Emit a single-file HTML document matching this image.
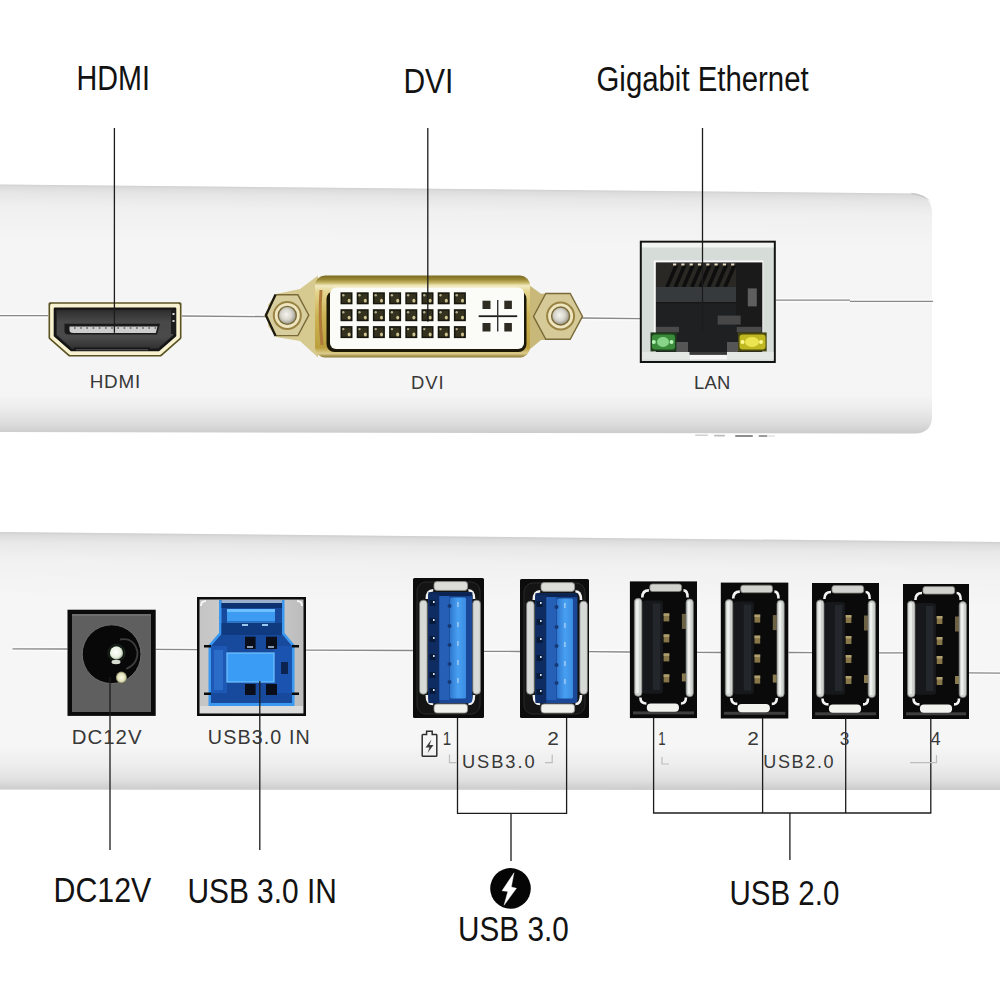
<!DOCTYPE html>
<html><head><meta charset="utf-8">
<style>
html,body{margin:0;padding:0;background:#fff;width:1000px;height:1000px;overflow:hidden}
svg{display:block}
text{font-family:"Liberation Sans",sans-serif}
</style></head>
<body>
<svg width="1000" height="1000" viewBox="0 0 1000 1000">
<defs>
<linearGradient id="topShade" gradientUnits="userSpaceOnUse" x1="0" y1="184.5" x2="0" y2="240" gradientTransform="skewY(0.5617)">
<stop offset="0" stop-color="#d0d0d0"/>
<stop offset="0.04" stop-color="#dcdcdc"/>
<stop offset="0.15" stop-color="#e6e6e6"/>
<stop offset="0.4" stop-color="#f0f0f0"/>
<stop offset="1" stop-color="#f5f5f5"/>
</linearGradient>
<linearGradient id="topBot" gradientUnits="userSpaceOnUse" x1="0" y1="395" x2="0" y2="434">
<stop offset="0" stop-color="#f5f5f5"/>
<stop offset="0.35" stop-color="#ececec"/>
<stop offset="0.7" stop-color="#dedede"/>
<stop offset="1" stop-color="#cbcbcb"/>
</linearGradient>
<linearGradient id="botShade" gradientUnits="userSpaceOnUse" x1="0" y1="532" x2="0" y2="600" gradientTransform="skewY(0.573)">
<stop offset="0" stop-color="#cfcfcf"/>
<stop offset="0.04" stop-color="#dcdcdc"/>
<stop offset="0.15" stop-color="#e8e8e8"/>
<stop offset="0.4" stop-color="#f1f1f1"/>
<stop offset="1" stop-color="#f6f6f6"/>
</linearGradient>
<linearGradient id="botBot" gradientUnits="userSpaceOnUse" x1="0" y1="745" x2="0" y2="790">
<stop offset="0" stop-color="#f6f6f6"/>
<stop offset="0.45" stop-color="#ededed"/>
<stop offset="0.78" stop-color="#e0e0e0"/>
<stop offset="1" stop-color="#cbcbcb"/>
</linearGradient>
<clipPath id="clipTop"><path d="M0 184.5 L912 193.5 Q932 194 932 214 L932 416 Q932 433.6 914 433.6 L0 432 Z"/></clipPath>
<clipPath id="clipBot"><path d="M0 532 L1000 542 L1000 790 L0 789.5 Z"/></clipPath>

<linearGradient id="usb3tongue" x1="0" y1="0" x2="1" y2="0"><stop offset="0" stop-color="#2f78d0"/><stop offset="0.5" stop-color="#48a0f2"/><stop offset="1" stop-color="#3a8ce0"/></linearGradient>
<radialGradient id="dcPin" cx="0.45" cy="0.45" r="0.6"><stop offset="0" stop-color="#ffffff"/><stop offset="0.65" stop-color="#e8f0e0"/><stop offset="1" stop-color="#8a9a80"/></radialGradient><radialGradient id="dcHi" cx="0.5" cy="0.5" r="0.5"><stop offset="0" stop-color="#fafae8"/><stop offset="0.7" stop-color="#e0e0b8"/><stop offset="1" stop-color="#7a7a58"/></radialGradient>
<linearGradient id="silver" x1="0" y1="0" x2="1" y2="0"><stop offset="0" stop-color="#c4c4c4"/><stop offset="0.5" stop-color="#d2d2d2"/><stop offset="1" stop-color="#bcbcbc"/></linearGradient>
<linearGradient id="gold" x1="0" y1="0" x2="0" y2="1"><stop offset="0" stop-color="#7a6a20"/><stop offset="0.05" stop-color="#9a8a38"/><stop offset="0.09" stop-color="#c8b868"/><stop offset="0.125" stop-color="#f2eac4"/><stop offset="0.2" stop-color="#e4d48e"/><stop offset="0.5" stop-color="#ccb252"/><stop offset="0.88" stop-color="#bca03e"/><stop offset="0.95" stop-color="#dccc8c"/><stop offset="1" stop-color="#8a7830"/></linearGradient>
<linearGradient id="hdmiIn" x1="0" y1="0" x2="0" y2="1"><stop offset="0" stop-color="#2e2e2e"/><stop offset="0.3" stop-color="#484848"/><stop offset="0.7" stop-color="#4a4a4a"/><stop offset="1" stop-color="#303030"/></linearGradient>
<radialGradient id="screw" cx="0.45" cy="0.45" r="0.6"><stop offset="0" stop-color="#f4f4f0"/><stop offset="0.5" stop-color="#d8d6cc"/><stop offset="1" stop-color="#8a887a"/></radialGradient>
</defs>
<rect width="1000" height="1000" fill="#fff"/>
<g clip-path="url(#clipTop)"><rect x="0" y="180" width="1000" height="260" fill="#f5f5f5"/><rect x="0" y="180" width="1000" height="80" fill="url(#topShade)"/><rect x="0" y="395" width="1000" height="45" fill="url(#topBot)"/></g>
<path d="M911 192.8 Q925 194 932 203 Q928 197 912 194.5 Z" fill="#c8c8c8"/>
<g clip-path="url(#clipBot)"><rect x="0" y="530" width="1000" height="265" fill="#f6f6f6"/><rect x="0" y="530" width="1000" height="90" fill="url(#botShade)"/><rect x="0" y="745" width="1000" height="46" fill="url(#botBot)"/></g>
<line x1="0" y1="314.09999999999997" x2="48" y2="314.09999999999997" stroke="#fcfcfc" stroke-width="1.2"/>
<line x1="0" y1="317.3" x2="48" y2="317.3" stroke="#fcfcfc" stroke-width="1.2"/>
<line x1="0" y1="315.7" x2="48" y2="315.7" stroke="#8a8a8a" stroke-width="1.3"/>
<line x1="182" y1="314.4" x2="266" y2="315.0" stroke="#fcfcfc" stroke-width="1.2"/>
<line x1="182" y1="317.6" x2="266" y2="318.20000000000005" stroke="#fcfcfc" stroke-width="1.2"/>
<line x1="182" y1="316" x2="266" y2="316.6" stroke="#8a8a8a" stroke-width="1.3"/>
<line x1="582" y1="316.4" x2="640" y2="317.0" stroke="#fcfcfc" stroke-width="1.2"/>
<line x1="582" y1="319.6" x2="640" y2="320.20000000000005" stroke="#fcfcfc" stroke-width="1.2"/>
<line x1="582" y1="318" x2="640" y2="318.6" stroke="#8a8a8a" stroke-width="1.3"/>
<line x1="776" y1="298.59999999999997" x2="850" y2="298.59999999999997" stroke="#fcfcfc" stroke-width="1.2"/>
<line x1="776" y1="301.8" x2="850" y2="301.8" stroke="#fcfcfc" stroke-width="1.2"/>
<line x1="776" y1="300.2" x2="850" y2="300.2" stroke="#8a8a8a" stroke-width="1.3"/>
<line x1="850" y1="299.79999999999995" x2="933" y2="299.79999999999995" stroke="#fcfcfc" stroke-width="1.2"/>
<line x1="850" y1="303.0" x2="933" y2="303.0" stroke="#fcfcfc" stroke-width="1.2"/>
<line x1="850" y1="301.4" x2="933" y2="301.4" stroke="#8a8a8a" stroke-width="1.3"/>
<line x1="12.6" y1="647.1999999999999" x2="67.5" y2="647.4" stroke="#fcfcfc" stroke-width="1.2"/>
<line x1="12.6" y1="650.4" x2="67.5" y2="650.6" stroke="#fcfcfc" stroke-width="1.2"/>
<line x1="12.6" y1="648.8" x2="67.5" y2="649" stroke="#8a8a8a" stroke-width="1.3"/>
<line x1="155.7" y1="647.8" x2="197" y2="648.0" stroke="#fcfcfc" stroke-width="1.2"/>
<line x1="155.7" y1="651.0" x2="197" y2="651.2" stroke="#fcfcfc" stroke-width="1.2"/>
<line x1="155.7" y1="649.4" x2="197" y2="649.6" stroke="#8a8a8a" stroke-width="1.3"/>
<line x1="306" y1="648.5" x2="413" y2="648.9" stroke="#fcfcfc" stroke-width="1.2"/>
<line x1="306" y1="651.7" x2="413" y2="652.1" stroke="#fcfcfc" stroke-width="1.2"/>
<line x1="306" y1="650.1" x2="413" y2="650.5" stroke="#8a8a8a" stroke-width="1.3"/>
<line x1="484" y1="649.6999999999999" x2="520" y2="649.9" stroke="#fcfcfc" stroke-width="1.2"/>
<line x1="484" y1="652.9" x2="520" y2="653.1" stroke="#fcfcfc" stroke-width="1.2"/>
<line x1="484" y1="651.3" x2="520" y2="651.5" stroke="#8a8a8a" stroke-width="1.3"/>
<line x1="589" y1="650.1" x2="629.9" y2="650.4" stroke="#fcfcfc" stroke-width="1.2"/>
<line x1="589" y1="653.3000000000001" x2="629.9" y2="653.6" stroke="#fcfcfc" stroke-width="1.2"/>
<line x1="589" y1="651.7" x2="629.9" y2="652" stroke="#8a8a8a" stroke-width="1.3"/>
<line x1="697" y1="650.6999999999999" x2="721" y2="650.9" stroke="#fcfcfc" stroke-width="1.2"/>
<line x1="697" y1="653.9" x2="721" y2="654.1" stroke="#fcfcfc" stroke-width="1.2"/>
<line x1="697" y1="652.3" x2="721" y2="652.5" stroke="#8a8a8a" stroke-width="1.3"/>
<line x1="788.5" y1="650.9" x2="812" y2="651.1" stroke="#fcfcfc" stroke-width="1.2"/>
<line x1="788.5" y1="654.1" x2="812" y2="654.3000000000001" stroke="#fcfcfc" stroke-width="1.2"/>
<line x1="788.5" y1="652.5" x2="812" y2="652.7" stroke="#8a8a8a" stroke-width="1.3"/>
<line x1="879" y1="651.3" x2="903" y2="651.3" stroke="#fcfcfc" stroke-width="1.2"/>
<line x1="879" y1="654.5" x2="903" y2="654.5" stroke="#fcfcfc" stroke-width="1.2"/>
<line x1="879" y1="652.9" x2="903" y2="652.9" stroke="#8a8a8a" stroke-width="1.3"/>
<line x1="969" y1="671.3" x2="1000" y2="671.5" stroke="#fcfcfc" stroke-width="1.2"/>
<line x1="969" y1="674.5" x2="1000" y2="674.7" stroke="#fcfcfc" stroke-width="1.2"/>
<line x1="969" y1="672.9" x2="1000" y2="673.1" stroke="#8a8a8a" stroke-width="1.3"/>
<g stroke-linejoin="round">
<path d="M50.00 303.70 L180.00 303.70 L180.00 337.82 L160.43 355.00 L69.57 355.00 L50.00 337.82 Z" fill="#5a5222" stroke="#5a5222" stroke-width="3"/>
<path d="M51.70 305.40 L178.30 305.40 L178.30 337.05 L159.79 353.30 L70.21 353.30 L51.70 337.05 Z" fill="#f8f2d0" stroke="#f8f2d0" stroke-width="3.2"/>
<path d="M54.70 308.40 L175.30 308.40 L175.30 335.69 L158.66 350.30 L71.34 350.30 L54.70 335.69 Z" fill="#141414" stroke="#141414" stroke-width="2"/>
<path d="M56.30 310.00 L173.70 310.00 L173.70 334.97 L158.06 348.70 L71.94 348.70 L56.30 334.97 Z" fill="url(#hdmiIn)" stroke="#262626" stroke-width="1"/>
<rect x="171" y="310" width="5" height="24" fill="#1c1c1c"/>
<path d="M64.5 323.8 H160 L157 334.5 H68 Q64.5 334.5 64.5 331 Z" fill="#1a1a1a"/>
<path d="M69.5 326.5 H157.5 L155.8 333 H73 Q69.5 333 69.5 330 Z" fill="#cdcdcd"/>
<rect x="74.0" y="327" width="1.6" height="2" fill="#7a7a7a"/><rect x="80.2" y="327" width="1.6" height="2" fill="#7a7a7a"/><rect x="86.4" y="327" width="1.6" height="2" fill="#7a7a7a"/><rect x="92.6" y="327" width="1.6" height="2" fill="#7a7a7a"/><rect x="98.8" y="327" width="1.6" height="2" fill="#7a7a7a"/><rect x="105.0" y="327" width="1.6" height="2" fill="#7a7a7a"/><rect x="111.2" y="327" width="1.6" height="2" fill="#7a7a7a"/><rect x="117.4" y="327" width="1.6" height="2" fill="#7a7a7a"/><rect x="123.6" y="327" width="1.6" height="2" fill="#7a7a7a"/><rect x="129.8" y="327" width="1.6" height="2" fill="#7a7a7a"/><rect x="136.0" y="327" width="1.6" height="2" fill="#7a7a7a"/><rect x="142.2" y="327" width="1.6" height="2" fill="#7a7a7a"/><rect x="148.4" y="327" width="1.6" height="2" fill="#7a7a7a"/><rect x="154.6" y="327" width="1.6" height="2" fill="#7a7a7a"/>
<rect x="172.5" y="313" width="2" height="2" fill="#ddd"/>
<rect x="172.5" y="320" width="2" height="2" fill="#ccc"/>
<rect x="74" y="347.5" width="76" height="1.8" fill="#161616"/>
<rect x="76" y="349.3" width="72" height="1" fill="#5a5a5a"/>
</g>
<g>
<path d="M268 305 L276 294 L300 289 L318 275.5 L318 357.5 L300 341 L276 337 L268 326 Z" fill="#d6ca90"/>
<path d="M516 275.5 L541 293.7 L558 293 L558 340 L541 340 L520 357.5 Z" fill="#c8b87a"/>
<polygon points="308.8,315.2 297.9,335.6 276.1,335.6 265.2,315.2 276.1,294.8 297.9,294.8" fill="#d8cd9c" stroke="#7a6a38" stroke-width="1.4"/>

<polygon points="582.5,316.4 570.2,339.3 545.8,339.3 533.5,316.4 545.8,293.5 570.2,293.5" fill="#d6ca98" stroke="#7a6a38" stroke-width="1.4"/>
<path d="M275.5 294.5 L266 315.2 L275.5 336" fill="none" stroke="#1c1a10" stroke-width="2.2" stroke-linejoin="round"/>
<circle cx="287.3" cy="315.4" r="13.5" fill="#efe6c0" stroke="#9a8444" stroke-width="2"/>
<circle cx="287.3" cy="315.4" r="9" fill="url(#screw)" stroke="#7a6a38" stroke-width="1.4"/>
<circle cx="560.6" cy="316" r="13.5" fill="#efe6c0" stroke="#9a8444" stroke-width="2"/>
<circle cx="560.6" cy="316" r="9" fill="url(#screw)" stroke="#7a6a38" stroke-width="1.4"/>
<rect x="315" y="275.5" width="215" height="82" rx="10" fill="url(#gold)"/>
<path d="M321 290 Q319 316 322 345" stroke="#b07a3a" stroke-width="3" fill="none"/>
<rect x="326.5" y="291" width="200" height="61" rx="8" fill="#1c1808"/>
<rect x="330" y="287.4" width="194" height="61.6" rx="6" fill="#fbfbf8"/>
<rect x="340.5" y="292.3" width="12" height="12" fill="#18170f"/><rect x="342.0" y="293.8" width="9" height="9" fill="#34321f"/><circle cx="343.3" cy="295.3" r="1.2" fill="#b8b090"/><ellipse cx="349.1" cy="300.7" rx="1.5" ry="1.9" fill="#d0c490"/><rect x="356.7" y="292.3" width="12" height="12" fill="#18170f"/><rect x="358.2" y="293.8" width="9" height="9" fill="#34321f"/><circle cx="359.5" cy="295.3" r="1.2" fill="#b8b090"/><ellipse cx="365.3" cy="300.7" rx="1.5" ry="1.9" fill="#d0c490"/><rect x="372.9" y="292.3" width="12" height="12" fill="#18170f"/><rect x="374.4" y="293.8" width="9" height="9" fill="#34321f"/><circle cx="375.7" cy="295.3" r="1.2" fill="#b8b090"/><ellipse cx="381.5" cy="300.7" rx="1.5" ry="1.9" fill="#d0c490"/><rect x="389.1" y="292.3" width="12" height="12" fill="#18170f"/><rect x="390.6" y="293.8" width="9" height="9" fill="#34321f"/><circle cx="391.9" cy="295.3" r="1.2" fill="#b8b090"/><ellipse cx="397.7" cy="300.7" rx="1.5" ry="1.9" fill="#d0c490"/><rect x="405.3" y="292.3" width="12" height="12" fill="#18170f"/><rect x="406.8" y="293.8" width="9" height="9" fill="#34321f"/><circle cx="408.1" cy="295.3" r="1.2" fill="#b8b090"/><ellipse cx="413.9" cy="300.7" rx="1.5" ry="1.9" fill="#d0c490"/><rect x="421.5" y="292.3" width="12" height="12" fill="#18170f"/><rect x="423.0" y="293.8" width="9" height="9" fill="#34321f"/><circle cx="424.3" cy="295.3" r="1.2" fill="#b8b090"/><ellipse cx="430.1" cy="300.7" rx="1.5" ry="1.9" fill="#d0c490"/><rect x="437.7" y="292.3" width="12" height="12" fill="#18170f"/><rect x="439.2" y="293.8" width="9" height="9" fill="#34321f"/><circle cx="440.5" cy="295.3" r="1.2" fill="#b8b090"/><ellipse cx="446.3" cy="300.7" rx="1.5" ry="1.9" fill="#d0c490"/><rect x="453.9" y="292.3" width="12" height="12" fill="#18170f"/><rect x="455.4" y="293.8" width="9" height="9" fill="#34321f"/><circle cx="456.7" cy="295.3" r="1.2" fill="#b8b090"/><ellipse cx="462.5" cy="300.7" rx="1.5" ry="1.9" fill="#d0c490"/><rect x="340.5" y="309.2" width="12" height="12" fill="#18170f"/><rect x="342.0" y="310.7" width="9" height="9" fill="#34321f"/><circle cx="343.3" cy="312.2" r="1.2" fill="#b8b090"/><ellipse cx="349.1" cy="317.6" rx="1.5" ry="1.9" fill="#d0c490"/><rect x="356.7" y="309.2" width="12" height="12" fill="#18170f"/><rect x="358.2" y="310.7" width="9" height="9" fill="#34321f"/><circle cx="359.5" cy="312.2" r="1.2" fill="#b8b090"/><ellipse cx="365.3" cy="317.6" rx="1.5" ry="1.9" fill="#d0c490"/><rect x="372.9" y="309.2" width="12" height="12" fill="#18170f"/><rect x="374.4" y="310.7" width="9" height="9" fill="#34321f"/><circle cx="375.7" cy="312.2" r="1.2" fill="#b8b090"/><ellipse cx="381.5" cy="317.6" rx="1.5" ry="1.9" fill="#d0c490"/><rect x="389.1" y="309.2" width="12" height="12" fill="#18170f"/><rect x="390.6" y="310.7" width="9" height="9" fill="#34321f"/><circle cx="391.9" cy="312.2" r="1.2" fill="#b8b090"/><ellipse cx="397.7" cy="317.6" rx="1.5" ry="1.9" fill="#d0c490"/><rect x="405.3" y="309.2" width="12" height="12" fill="#18170f"/><rect x="406.8" y="310.7" width="9" height="9" fill="#34321f"/><circle cx="408.1" cy="312.2" r="1.2" fill="#b8b090"/><ellipse cx="413.9" cy="317.6" rx="1.5" ry="1.9" fill="#d0c490"/><rect x="421.5" y="309.2" width="12" height="12" fill="#18170f"/><rect x="423.0" y="310.7" width="9" height="9" fill="#34321f"/><circle cx="424.3" cy="312.2" r="1.2" fill="#b8b090"/><ellipse cx="430.1" cy="317.6" rx="1.5" ry="1.9" fill="#d0c490"/><rect x="437.7" y="309.2" width="12" height="12" fill="#18170f"/><rect x="439.2" y="310.7" width="9" height="9" fill="#34321f"/><circle cx="440.5" cy="312.2" r="1.2" fill="#b8b090"/><ellipse cx="446.3" cy="317.6" rx="1.5" ry="1.9" fill="#d0c490"/><rect x="453.9" y="309.2" width="12" height="12" fill="#18170f"/><rect x="455.4" y="310.7" width="9" height="9" fill="#34321f"/><circle cx="456.7" cy="312.2" r="1.2" fill="#b8b090"/><ellipse cx="462.5" cy="317.6" rx="1.5" ry="1.9" fill="#d0c490"/><rect x="340.5" y="326.1" width="12" height="12" fill="#18170f"/><rect x="342.0" y="327.6" width="9" height="9" fill="#34321f"/><circle cx="343.3" cy="329.1" r="1.2" fill="#b8b090"/><ellipse cx="349.1" cy="334.5" rx="1.5" ry="1.9" fill="#d0c490"/><rect x="356.7" y="326.1" width="12" height="12" fill="#18170f"/><rect x="358.2" y="327.6" width="9" height="9" fill="#34321f"/><circle cx="359.5" cy="329.1" r="1.2" fill="#b8b090"/><ellipse cx="365.3" cy="334.5" rx="1.5" ry="1.9" fill="#d0c490"/><rect x="372.9" y="326.1" width="12" height="12" fill="#18170f"/><rect x="374.4" y="327.6" width="9" height="9" fill="#34321f"/><circle cx="375.7" cy="329.1" r="1.2" fill="#b8b090"/><ellipse cx="381.5" cy="334.5" rx="1.5" ry="1.9" fill="#d0c490"/><rect x="389.1" y="326.1" width="12" height="12" fill="#18170f"/><rect x="390.6" y="327.6" width="9" height="9" fill="#34321f"/><circle cx="391.9" cy="329.1" r="1.2" fill="#b8b090"/><ellipse cx="397.7" cy="334.5" rx="1.5" ry="1.9" fill="#d0c490"/><rect x="405.3" y="326.1" width="12" height="12" fill="#18170f"/><rect x="406.8" y="327.6" width="9" height="9" fill="#34321f"/><circle cx="408.1" cy="329.1" r="1.2" fill="#b8b090"/><ellipse cx="413.9" cy="334.5" rx="1.5" ry="1.9" fill="#d0c490"/><rect x="421.5" y="326.1" width="12" height="12" fill="#18170f"/><rect x="423.0" y="327.6" width="9" height="9" fill="#34321f"/><circle cx="424.3" cy="329.1" r="1.2" fill="#b8b090"/><ellipse cx="430.1" cy="334.5" rx="1.5" ry="1.9" fill="#d0c490"/><rect x="437.7" y="326.1" width="12" height="12" fill="#18170f"/><rect x="439.2" y="327.6" width="9" height="9" fill="#34321f"/><circle cx="440.5" cy="329.1" r="1.2" fill="#b8b090"/><ellipse cx="446.3" cy="334.5" rx="1.5" ry="1.9" fill="#d0c490"/><rect x="453.9" y="326.1" width="12" height="12" fill="#18170f"/><rect x="455.4" y="327.6" width="9" height="9" fill="#34321f"/><circle cx="456.7" cy="329.1" r="1.2" fill="#b8b090"/><ellipse cx="462.5" cy="334.5" rx="1.5" ry="1.9" fill="#d0c490"/>
<rect x="478.7" y="315.3" width="38.5" height="1.8" fill="#1e1e1e"/>
<rect x="497" y="300" width="1.4" height="31.5" fill="#333"/>
<rect x="482.5" y="300.7" width="8" height="8.3" fill="#2e2c22"/>
<rect x="504.3" y="300.7" width="7.6" height="8.3" fill="#2e2c22"/>
<rect x="482.5" y="323" width="8" height="8.5" fill="#2e2c22"/>
<rect x="504.3" y="323" width="7.6" height="8.5" fill="#2e2c22"/>
</g>
<g>
<rect x="639.8" y="240.7" width="136" height="122.3" fill="#121212"/>
<rect x="641.8" y="242.6" width="132" height="118.4" fill="#d6dcd8"/>
<rect x="642" y="243" width="131.5" height="4.5" fill="#f2f4f2"/>
<rect x="653.8" y="260.5" width="109.5" height="94" fill="#fafafa"/>
<rect x="655.8" y="262.4" width="106.5" height="92" fill="#1e2022"/>
<rect x="656" y="263" width="106" height="24" fill="#2a2824"/>
<path d="M676.5 265 L667.0 287" stroke="#0e0e0e" stroke-width="3.6"/><path d="M684.8 265 L675.3 287" stroke="#0e0e0e" stroke-width="3.6"/><path d="M693.1 265 L683.6 287" stroke="#0e0e0e" stroke-width="3.6"/><path d="M701.4 265 L691.9 287" stroke="#0e0e0e" stroke-width="3.6"/><path d="M709.7 265 L700.2 287" stroke="#0e0e0e" stroke-width="3.6"/><path d="M718.0 265 L708.5 287" stroke="#0e0e0e" stroke-width="3.6"/><path d="M726.3 265 L716.8 287" stroke="#0e0e0e" stroke-width="3.6"/><path d="M734.6 265 L725.1 287" stroke="#0e0e0e" stroke-width="3.6"/>
<rect x="673.0" y="263.5" width="3.2" height="2" fill="#e6dcc0"/><rect x="681.3" y="263.5" width="3.2" height="2" fill="#e6dcc0"/><rect x="689.6" y="263.5" width="3.2" height="2" fill="#e6dcc0"/><rect x="697.9" y="263.5" width="3.2" height="2" fill="#e6dcc0"/><rect x="706.2" y="263.5" width="3.2" height="2" fill="#e6dcc0"/><rect x="714.5" y="263.5" width="3.2" height="2" fill="#e6dcc0"/><rect x="722.8" y="263.5" width="3.2" height="2" fill="#e6dcc0"/><rect x="731.1" y="263.5" width="3.2" height="2" fill="#e6dcc0"/>
<rect x="656" y="287" width="80" height="15" fill="#363a3c"/>
<rect x="656" y="302" width="80" height="1.5" fill="#181818"/>
<rect x="736" y="263" width="26" height="70" fill="#1a1a1a"/>
<rect x="747.8" y="288.4" width="9" height="18" fill="#5e5e5e"/>
<rect x="717.7" y="315.6" width="23" height="9" fill="#474747"/>
<rect x="656" y="326.8" width="23" height="5.6" fill="#4a4a4a"/>
<rect x="736.6" y="326.8" width="25" height="5.6" fill="#4a4a4a"/>
<rect x="676" y="342" width="12" height="10" fill="#555"/>
<rect x="727" y="342" width="11" height="10" fill="#555"/>
<rect x="650.5" y="332.4" width="26" height="19" fill="#1e3e1e"/>
<rect x="652" y="334.5" width="23" height="15" rx="3" fill="#3a8c3a"/>
<ellipse cx="663" cy="342" rx="6" ry="5" fill="#88d488"/>
<circle cx="653.8" cy="342" r="2" fill="#b8f4b8"/>
<circle cx="671.5" cy="342" r="2" fill="#b8f4b8"/>
<rect x="738" y="332.4" width="28.7" height="19" fill="#4a4a10"/>
<rect x="739.5" y="334.5" width="26" height="15" rx="3" fill="#c0b820"/>
<ellipse cx="752" cy="342" rx="7" ry="5" fill="#ece450"/>
<circle cx="742.5" cy="342" r="2" fill="#fff890"/>
<circle cx="761" cy="342" r="2" fill="#fff890"/>
<rect x="642" y="352" width="47.7" height="7.5" fill="#e4e8e4"/>
<rect x="727" y="352" width="46.5" height="7.5" fill="#e4e8e4"/>
<rect x="689.7" y="354.8" width="37.3" height="4.7" fill="#f6f6f6"/>
<rect x="689.7" y="352" width="37.3" height="2.8" fill="#3a3a3a"/>
</g>
<g>
<rect x="67.5" y="609.7" width="88.2" height="106.2" fill="#0b0b0b"/>
<rect x="72" y="614" width="79" height="98" fill="#5f5f5f"/>
<rect x="72" y="614" width="79" height="2" fill="#6e6e6e"/>
<circle cx="111.6" cy="654.2" r="29.4" fill="#080808" stroke="#6e6e6e" stroke-width="1"/>
<path d="M120 639.5 Q134 637 137.5 652 Q138 664 126 669" fill="none" stroke="#3c3c3c" stroke-width="1.8"/>
<circle cx="116.5" cy="652.9" r="8.5" fill="#101410" stroke="#1e2a1e" stroke-width="1"/>
<circle cx="116.5" cy="652.9" r="6.6" fill="url(#dcPin)"/>
<ellipse cx="116" cy="662" rx="4.5" ry="2.2" fill="#d8dcd0"/>
<ellipse cx="121.4" cy="677.4" rx="5.5" ry="5.8" fill="url(#dcHi)"/>
</g>
<g>
<rect x="197" y="597" width="109" height="119" fill="#0c0c0c"/>
<rect x="199.5" y="599.5" width="104" height="114" fill="url(#silver)"/>
<path d="M201 606 Q201 601 206 601 M302 606 Q302 601 297 601 M201 707 Q201 712 206 712 M302 707 Q302 712 297 712" stroke="#f4f4f4" stroke-width="2" fill="none"/>
<rect x="200" y="706" width="103" height="7" fill="#dcdcdc"/>
<path d="M219 600 H284.5 V633 L294.5 645 V706 H208.5 V645 L219 633 Z" fill="#3a98f0"/>
<path d="M221.5 600 H282 V634 L292 646 V703 H211 V646 L221.5 634 Z" fill="#174a9c"/>
<rect x="221.5" y="600" width="60.5" height="3" fill="#9ab0cc"/><rect x="221.5" y="603" width="60.5" height="5" fill="#0c3070"/><rect x="221.5" y="623" width="60.5" height="12" fill="#103a80"/>
<rect x="211" y="646" width="16" height="47" fill="#1d58b4"/>
<rect x="214" y="650" width="9" height="40" fill="#2a6cc8"/>
<rect x="274" y="646" width="18" height="47" fill="#1a54b0"/>
<rect x="227" y="609" width="48" height="14" rx="1" fill="#3d9cf2"/>
<rect x="227" y="609" width="48" height="3" fill="#6cc0ff"/>
<rect x="227" y="621" width="48" height="2" fill="#2a74c8"/>
<rect x="242" y="624" width="6" height="2" fill="#9cc8f0"/>
<rect x="262" y="624" width="6" height="2" fill="#9cc8f0"/>
<rect x="245" y="636.7" width="10.6" height="12.3" fill="#0a0e1a"/>
<rect x="266" y="636.7" width="11" height="12.3" fill="#0a0e1a"/>
<rect x="247" y="646" width="6" height="2" fill="#8a9ab0"/>
<rect x="268" y="646" width="6" height="2" fill="#8a9ab0"/>
<rect x="227" y="653" width="47" height="29" fill="#3a9cf4"/>
<rect x="227" y="653" width="47" height="29" fill="none" stroke="#72c4ff" stroke-width="1.2"/>
<rect x="245" y="684" width="10.6" height="11" fill="#0a0e1a"/>
<rect x="266" y="684" width="11" height="11" fill="#0a0e1a"/>
<rect x="281" y="662" width="7" height="12" fill="#0e2450"/>
<rect x="204" y="645" width="7" height="2.5" fill="#0a0a0a"/>
<rect x="292" y="645" width="7" height="2.5" fill="#0a0a0a"/>
<rect x="204" y="692.5" width="7" height="2.5" fill="#0a0a0a"/>
<rect x="292" y="692.5" width="7" height="2.5" fill="#0a0a0a"/>
</g>
<g>
<rect x="413" y="578" width="71" height="140" rx="1.5" fill="#0c0c0c"/>
<rect x="417" y="582" width="63" height="132" rx="9" fill="#141414" stroke="#2a2a2a" stroke-width="1"/>
<path d="M426.8 599 Q426.8 590.2 433.2 590.2 M468.4 590.2 Q474 590.2 474 599 M426.8 695 Q426.8 704 433.2 704 M468.4 704 Q474 704 474 695" fill="none" stroke="#f2f2f2" stroke-width="2.6"/>
<rect x="428.4" y="592.2" width="44" height="111" rx="4" fill="#1a4896"/>
<rect x="428.4" y="592.2" width="44" height="4" fill="#0b2452"/>
<rect x="428.4" y="594" width="11" height="109" fill="#0f2c62"/>
<rect x="439.4" y="596" width="10" height="104" fill="#2560b6"/>
<rect x="429.5" y="600" width="6" height="6" fill="#081a3a"/><rect x="433" y="601" width="1.6" height="2" fill="#d8e4f0"/><rect x="429.5" y="618" width="6" height="6" fill="#081a3a"/><rect x="433" y="619" width="1.6" height="2" fill="#d8e4f0"/><rect x="429.5" y="636" width="6" height="6" fill="#081a3a"/><rect x="433" y="637" width="1.6" height="2" fill="#d8e4f0"/><rect x="429.5" y="654" width="6" height="6" fill="#081a3a"/><rect x="433" y="655" width="1.6" height="2" fill="#d8e4f0"/><rect x="429.5" y="672" width="6" height="6" fill="#081a3a"/><rect x="433" y="673" width="1.6" height="2" fill="#d8e4f0"/><rect x="429.5" y="688" width="6" height="6" fill="#081a3a"/><rect x="433" y="689" width="1.6" height="2" fill="#d8e4f0"/>
<rect x="450" y="597.6" width="16" height="101" rx="1.5" fill="url(#usb3tongue)"/>
<circle cx="449.5" cy="606" r="2" fill="#163a78"/><rect x="457" y="602" width="1.8" height="5" fill="#8fc4f4"/><circle cx="449.5" cy="626" r="2" fill="#163a78"/><rect x="457" y="622" width="1.8" height="5" fill="#8fc4f4"/><circle cx="449.5" cy="645" r="2" fill="#163a78"/><rect x="457" y="641" width="1.8" height="5" fill="#8fc4f4"/><circle cx="449.5" cy="664" r="2" fill="#163a78"/><rect x="457" y="660" width="1.8" height="5" fill="#8fc4f4"/><circle cx="449.5" cy="682" r="2" fill="#163a78"/><rect x="457" y="678" width="1.8" height="5" fill="#8fc4f4"/>
<rect x="434" y="581.6" width="33.6" height="8.8" rx="3" fill="#dcdcd8" stroke="#8a8a86" stroke-width="0.8"/>
<rect x="434" y="704" width="33.6" height="9" rx="3" fill="#f0f0ec" stroke="#8a8a86" stroke-width="0.8"/>
<rect x="419.6" y="600.2" width="7.6" height="94" rx="3.5" fill="#d8dad8" stroke="#7a7c7a" stroke-width="0.8"/>
<rect x="472.8" y="600.2" width="7.6" height="94" rx="3.5" fill="#d8dad8" stroke="#7a7c7a" stroke-width="0.8"/>
</g>
<g>
<rect x="520" y="579" width="69" height="139" rx="1.5" fill="#0c0c0c"/>
<rect x="524" y="583" width="61" height="131" rx="9" fill="#141414" stroke="#2a2a2a" stroke-width="1"/>
<path d="M533.8 600 Q533.8 591.2 540.2 591.2 M575.4 591.2 Q581 591.2 581 600 M533.8 695 Q533.8 704 540.2 704 M575.4 704 Q581 704 581 695" fill="none" stroke="#f2f2f2" stroke-width="2.6"/>
<rect x="535.4" y="593.2" width="42" height="110" rx="4" fill="#1a4896"/>
<rect x="535.4" y="593.2" width="42" height="4" fill="#0b2452"/>
<rect x="535.4" y="595" width="11" height="108" fill="#0f2c62"/>
<rect x="546.4" y="597" width="10" height="103" fill="#2560b6"/>
<rect x="536.5" y="601" width="6" height="6" fill="#081a3a"/><rect x="540" y="602" width="1.6" height="2" fill="#d8e4f0"/><rect x="536.5" y="619" width="6" height="6" fill="#081a3a"/><rect x="540" y="620" width="1.6" height="2" fill="#d8e4f0"/><rect x="536.5" y="637" width="6" height="6" fill="#081a3a"/><rect x="540" y="638" width="1.6" height="2" fill="#d8e4f0"/><rect x="536.5" y="655" width="6" height="6" fill="#081a3a"/><rect x="540" y="656" width="1.6" height="2" fill="#d8e4f0"/><rect x="536.5" y="673" width="6" height="6" fill="#081a3a"/><rect x="540" y="674" width="1.6" height="2" fill="#d8e4f0"/><rect x="536.5" y="689" width="6" height="6" fill="#081a3a"/><rect x="540" y="690" width="1.6" height="2" fill="#d8e4f0"/>
<rect x="557" y="598.6" width="16" height="100" rx="1.5" fill="url(#usb3tongue)"/>
<circle cx="556.5" cy="607" r="2" fill="#163a78"/><rect x="564" y="603" width="1.8" height="5" fill="#8fc4f4"/><circle cx="556.5" cy="627" r="2" fill="#163a78"/><rect x="564" y="623" width="1.8" height="5" fill="#8fc4f4"/><circle cx="556.5" cy="646" r="2" fill="#163a78"/><rect x="564" y="642" width="1.8" height="5" fill="#8fc4f4"/><circle cx="556.5" cy="665" r="2" fill="#163a78"/><rect x="564" y="661" width="1.8" height="5" fill="#8fc4f4"/><circle cx="556.5" cy="683" r="2" fill="#163a78"/><rect x="564" y="679" width="1.8" height="5" fill="#8fc4f4"/>
<rect x="541" y="582.6" width="33.6" height="8.8" rx="3" fill="#dcdcd8" stroke="#8a8a86" stroke-width="0.8"/>
<rect x="541" y="704" width="33.6" height="9" rx="3" fill="#f0f0ec" stroke="#8a8a86" stroke-width="0.8"/>
<rect x="526.6" y="601.2" width="7.6" height="93" rx="3.5" fill="#d8dad8" stroke="#7a7c7a" stroke-width="0.8"/>
<rect x="579.8" y="601.2" width="7.6" height="93" rx="3.5" fill="#d8dad8" stroke="#7a7c7a" stroke-width="0.8"/>
</g>
<g>
<rect x="629.9" y="581.4" width="67.10000000000002" height="136.70000000000005" fill="#0a0a0a"/>
<path d="M642.3 597.4 Q642.3 590.4 648.9 590.4 M683.5 590.4 Q687.6 590.4 687.6 597.4 M640.4 697.5 Q640.4 703.5 646.4 703.5 M680.9 703.5 Q685.9 703.5 685.9 697.5" fill="none" stroke="#f4f4f4" stroke-width="2.6"/>
<rect x="642.6" y="600.4" width="20.3" height="93.4" rx="3" fill="#16181b"/>
<rect x="652.8" y="603.4" width="7.5" height="86.7" fill="#23262a"/>
<rect x="663.6" y="613.4" width="5.7" height="8" fill="#86764a"/><rect x="663.6" y="613.4" width="5.7" height="2.5" fill="#b0a070"/><rect x="663.6" y="634.4" width="5.7" height="8" fill="#86764a"/><rect x="663.6" y="634.4" width="5.7" height="2.5" fill="#b0a070"/><rect x="663.6" y="653.4" width="5.7" height="8" fill="#86764a"/><rect x="663.6" y="653.4" width="5.7" height="2.5" fill="#b0a070"/><rect x="663.6" y="674.4" width="5.7" height="8" fill="#86764a"/><rect x="663.6" y="674.4" width="5.7" height="2.5" fill="#b0a070"/><rect x="681.9" y="613.9" width="4" height="15" fill="#6e6245"/><rect x="681.9" y="673.4" width="4" height="8" fill="#8a7a50"/>
<rect x="633.0" y="711.4" width="61.1" height="3" fill="#3e3e3e"/>
<rect x="649.8" y="584.0" width="31.8" height="7.5" rx="2.5" fill="#d2d3ce" stroke="#7a7a76" stroke-width="0.8"/>
<rect x="646.8" y="703.5" width="32.2" height="8.3" rx="4" fill="#f2f2ee"/>
<rect x="634.4" y="598.3" width="7.5" height="98.0" rx="3.7" fill="#cfd3cf" stroke="#7a7c7a" stroke-width="0.8"/>
<rect x="686.1" y="599.0" width="7.2" height="97.7" rx="3.6" fill="#cfd3cf" stroke="#7a7c7a" stroke-width="0.8"/>
<rect x="636.2" y="600.4" width="2.5" height="92.7" fill="#eef0ee"/>
<rect x="687.9" y="601.4" width="2.5" height="92.7" fill="#eef0ee"/>
</g>
<g>
<rect x="720.8" y="582.6" width="67.5" height="135.89999999999998" fill="#0a0a0a"/>
<path d="M733.2 598.6 Q733.2 591.6 739.8 591.6 M774.4 591.6 Q778.5 591.6 778.5 598.6 M731.3 697.9 Q731.3 703.9 737.3 703.9 M771.8 703.9 Q776.8 703.9 776.8 697.9" fill="none" stroke="#f4f4f4" stroke-width="2.6"/>
<rect x="733.5" y="601.6" width="20.3" height="92.6" rx="3" fill="#16181b"/>
<rect x="743.7" y="604.6" width="7.5" height="85.9" fill="#23262a"/>
<rect x="754.5" y="614.6" width="5.7" height="8" fill="#86764a"/><rect x="754.5" y="614.6" width="5.7" height="2.5" fill="#b0a070"/><rect x="754.5" y="635.6" width="5.7" height="8" fill="#86764a"/><rect x="754.5" y="635.6" width="5.7" height="2.5" fill="#b0a070"/><rect x="754.5" y="654.6" width="5.7" height="8" fill="#86764a"/><rect x="754.5" y="654.6" width="5.7" height="2.5" fill="#b0a070"/><rect x="754.5" y="675.6" width="5.7" height="8" fill="#86764a"/><rect x="754.5" y="675.6" width="5.7" height="2.5" fill="#b0a070"/><rect x="772.8" y="615.1" width="4" height="15" fill="#6e6245"/><rect x="772.8" y="674.6" width="4" height="8" fill="#8a7a50"/>
<rect x="723.9" y="711.8" width="61.5" height="3" fill="#3e3e3e"/>
<rect x="740.7" y="585.2" width="31.8" height="7.5" rx="2.5" fill="#d2d3ce" stroke="#7a7a76" stroke-width="0.8"/>
<rect x="737.7" y="703.9" width="32.2" height="8.3" rx="4" fill="#f2f2ee"/>
<rect x="725.3" y="599.5" width="7.5" height="97.2" rx="3.7" fill="#cfd3cf" stroke="#7a7c7a" stroke-width="0.8"/>
<rect x="777.0" y="600.2" width="7.2" height="96.9" rx="3.6" fill="#cfd3cf" stroke="#7a7c7a" stroke-width="0.8"/>
<rect x="727.1" y="601.6" width="2.5" height="91.9" fill="#eef0ee"/>
<rect x="778.8" y="602.6" width="2.5" height="91.9" fill="#eef0ee"/>
</g>
<g>
<rect x="812" y="583" width="67" height="136" fill="#0a0a0a"/>
<path d="M824.4 599 Q824.4 592 831 592 M865.6 592 Q869.7 592 869.7 599 M822.5 698.4 Q822.5 704.4 828.5 704.4 M863 704.4 Q868 704.4 868 698.4" fill="none" stroke="#f4f4f4" stroke-width="2.6"/>
<rect x="824.7" y="602" width="20.3" height="92.7" rx="3" fill="#16181b"/>
<rect x="834.9" y="605" width="7.5" height="86" fill="#23262a"/>
<rect x="845.7" y="615" width="5.7" height="8" fill="#86764a"/><rect x="845.7" y="615" width="5.7" height="2.5" fill="#b0a070"/><rect x="845.7" y="636" width="5.7" height="8" fill="#86764a"/><rect x="845.7" y="636" width="5.7" height="2.5" fill="#b0a070"/><rect x="845.7" y="655" width="5.7" height="8" fill="#86764a"/><rect x="845.7" y="655" width="5.7" height="2.5" fill="#b0a070"/><rect x="845.7" y="676" width="5.7" height="8" fill="#86764a"/><rect x="845.7" y="676" width="5.7" height="2.5" fill="#b0a070"/><rect x="864" y="615.5" width="4" height="15" fill="#6e6245"/><rect x="864" y="675" width="4" height="8" fill="#8a7a50"/>
<rect x="815.1" y="712.3" width="61" height="3" fill="#3e3e3e"/>
<rect x="831.9" y="585.6" width="31.8" height="7.5" rx="2.5" fill="#d2d3ce" stroke="#7a7a76" stroke-width="0.8"/>
<rect x="828.9" y="704.4" width="32.2" height="8.3" rx="4" fill="#f2f2ee"/>
<rect x="816.5" y="599.9" width="7.5" height="97.3" rx="3.7" fill="#cfd3cf" stroke="#7a7c7a" stroke-width="0.8"/>
<rect x="868.2" y="600.6" width="7.2" height="97" rx="3.6" fill="#cfd3cf" stroke="#7a7c7a" stroke-width="0.8"/>
<rect x="818.3" y="602" width="2.5" height="92" fill="#eef0ee"/>
<rect x="870" y="603" width="2.5" height="92" fill="#eef0ee"/>
</g>
<g>
<rect x="903" y="584" width="66" height="135" fill="#0a0a0a"/>
<path d="M915.4 600 Q915.4 593 922 593 M956.6 593 Q960.7 593 960.7 600 M913.5 698.4 Q913.5 704.4 919.5 704.4 M954 704.4 Q959 704.4 959 698.4" fill="none" stroke="#f4f4f4" stroke-width="2.6"/>
<rect x="915.7" y="603" width="20.3" height="91.7" rx="3" fill="#16181b"/>
<rect x="925.9" y="606" width="7.5" height="85" fill="#23262a"/>
<rect x="936.7" y="616" width="5.7" height="8" fill="#86764a"/><rect x="936.7" y="616" width="5.7" height="2.5" fill="#b0a070"/><rect x="936.7" y="637" width="5.7" height="8" fill="#86764a"/><rect x="936.7" y="637" width="5.7" height="2.5" fill="#b0a070"/><rect x="936.7" y="656" width="5.7" height="8" fill="#86764a"/><rect x="936.7" y="656" width="5.7" height="2.5" fill="#b0a070"/><rect x="936.7" y="677" width="5.7" height="8" fill="#86764a"/><rect x="936.7" y="677" width="5.7" height="2.5" fill="#b0a070"/><rect x="955" y="616.5" width="4" height="15" fill="#6e6245"/><rect x="955" y="676" width="4" height="8" fill="#8a7a50"/>
<rect x="906.1" y="712.3" width="60" height="3" fill="#3e3e3e"/>
<rect x="922.9" y="586.6" width="31.8" height="7.5" rx="2.5" fill="#d2d3ce" stroke="#7a7a76" stroke-width="0.8"/>
<rect x="919.9" y="704.4" width="32.2" height="8.3" rx="4" fill="#f2f2ee"/>
<rect x="907.5" y="600.9" width="7.5" height="96.3" rx="3.7" fill="#cfd3cf" stroke="#7a7c7a" stroke-width="0.8"/>
<rect x="959.2" y="601.6" width="7.2" height="96" rx="3.6" fill="#cfd3cf" stroke="#7a7c7a" stroke-width="0.8"/>
<rect x="909.3" y="603" width="2.5" height="91" fill="#eef0ee"/>
<rect x="961" y="604" width="2.5" height="91" fill="#eef0ee"/>
</g>
<line x1="114.4" y1="128" x2="114.4" y2="332.8" stroke="#1c1c1c" stroke-width="1.3"/>
<line x1="427.8" y1="128" x2="427.8" y2="321.8" stroke="#1c1c1c" stroke-width="1.3"/>
<line x1="702.5" y1="128" x2="702.5" y2="331" stroke="#1c1c1c" stroke-width="1.3"/>
<line x1="110" y1="677" x2="110" y2="850" stroke="#1c1c1c" stroke-width="1.3"/>
<line x1="259.8" y1="681" x2="259.8" y2="850" stroke="#1c1c1c" stroke-width="1.3"/>
<path d="M457.5 718 V813.3 H566.6 V718 M511 813.3 V861" fill="none" stroke="#1c1c1c" stroke-width="1.3"/>
<path d="M653.6 718 V813 H930.8 V718 M762.6 718 V813 M845.7 718 V813 M789.9 813 V860" fill="none" stroke="#1c1c1c" stroke-width="1.3"/>
<g>
<circle cx="510.5" cy="888.4" r="20.3" fill="#050505"/>
<path d="M514 872.8 L502 890.8 L507.8 891.4 L504 905.3 L516.5 888.3 L511.3 886.9 Z" fill="#fff" stroke="#fff" stroke-width="0.4" stroke-linejoin="round"/>
</g>
<path d="M423 734.5 H426.6 V731.2 H432.2 V734.5 H436.2 Q436.8 734.5 436.8 735.2 V755.4 Q436.8 756.2 436 756.2 H423 Q422.2 756.2 422.2 755.4 V735.3 Q422.2 734.5 423 734.5 Z" fill="none" stroke="#2e2e2e" stroke-width="1.5"/>
<path d="M431.5 739.5 L425.5 747.5 H429.5 L427.5 753 L433.5 745 H429.5 Z" fill="#3a3a3a"/>
<g fill="none" stroke="#bdbdbd" stroke-width="1.2">
<path d="M449.5 754.4 V762.6 H457"/>
<path d="M545 762.6 H552.2 V754.4"/>
<path d="M662 757 V764 H669"/>
<path d="M910 762.6 H936.5 V755"/>
</g>
<g>
<rect x="695" y="434.5" width="13" height="1.5" rx="0.7" fill="#d0d0d0"/>
<rect x="714" y="434.8" width="11" height="1.6" rx="0.7" fill="#bdbdbd"/>
<rect x="735" y="435" width="18" height="2" rx="1" fill="#8e8e8e"/>
<rect x="758.5" y="435" width="9" height="2" rx="1" fill="#9a9a9a"/>
<rect x="768" y="435.3" width="7" height="1.4" fill="#e0e0e0"/>
</g>
<!--TEXT-->
<text x="76.49" y="90.2" font-size="34.2" textLength="73.46" lengthAdjust="spacingAndGlyphs" fill="#121212">HDMI</text>
<text x="403.4" y="93.2" font-size="34.35" textLength="50.01" lengthAdjust="spacingAndGlyphs" fill="#121212">DVI</text>
<text x="596.53" y="91" font-size="34.4" textLength="212.16" lengthAdjust="spacingAndGlyphs" fill="#121212">Gigabit Ethernet</text>
<text x="53.57" y="902.4" font-size="34.43" textLength="97.74" lengthAdjust="spacingAndGlyphs" fill="#121212">DC12V</text>
<text x="187.4" y="902.5" font-size="34.57" textLength="149.44" lengthAdjust="spacingAndGlyphs" fill="#121212">USB 3.0 IN</text>
<text x="458.1" y="940.8" font-size="34.86" textLength="110.59" lengthAdjust="spacingAndGlyphs" fill="#121212">USB 3.0</text>
<text x="729.41" y="904.85" font-size="34.93" textLength="109.91" lengthAdjust="spacingAndGlyphs" fill="#121212">USB 2.0</text>
<text x="89.77" y="388" font-size="18.86" textLength="50.37" lengthAdjust="spacing" fill="#383838">HDMI</text>
<text x="410.98" y="388.8" font-size="18.43" textLength="32.62" lengthAdjust="spacing" fill="#383838">DVI</text>
<text x="694.06" y="389.4" font-size="18.43" textLength="36.18" lengthAdjust="spacing" fill="#383838">LAN</text>
<text x="71.77" y="743.8" font-size="20.43" textLength="69.81" lengthAdjust="spacing" fill="#383838">DC12V</text>
<text x="207.87" y="744" font-size="19.71" textLength="101.94" lengthAdjust="spacing" fill="#383838">USB3.0 IN</text>
<text x="461.89" y="768" font-size="18.29" textLength="72.73" lengthAdjust="spacing" fill="#383838">USB3.0</text>
<text x="763.34" y="768.2" font-size="18.0" textLength="70.21" lengthAdjust="spacing" fill="#383838">USB2.0</text>
<text x="442.86" y="744.8" font-size="18.6" textLength="8.38" lengthAdjust="spacingAndGlyphs" fill="#383838">1</text>
<text x="547.36" y="745.3" font-size="18.6" textLength="11.61" lengthAdjust="spacingAndGlyphs" fill="#383838">2</text>
<text x="658.23" y="744.6" font-size="18.6" textLength="7.33" lengthAdjust="spacingAndGlyphs" fill="#383838">1</text>
<text x="747.36" y="745.4" font-size="18.6" textLength="11.61" lengthAdjust="spacingAndGlyphs" fill="#383838">2</text>
<text x="839.63" y="745" font-size="18.6" textLength="9.59" lengthAdjust="spacingAndGlyphs" fill="#383838">3</text>
<text x="930.65" y="745" font-size="18.6" textLength="9.82" lengthAdjust="spacingAndGlyphs" fill="#383838">4</text>
</svg>
</body></html>
